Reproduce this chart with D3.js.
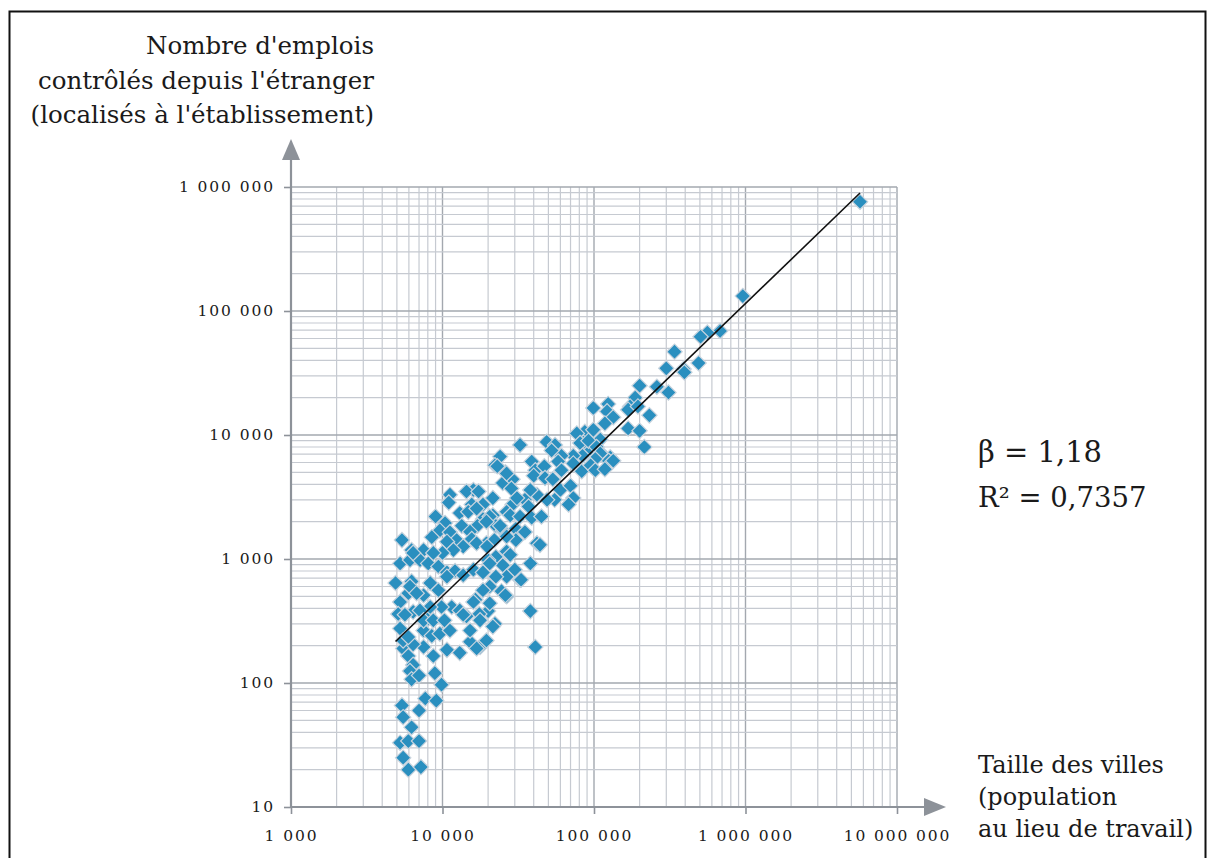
<!DOCTYPE html>
<html>
<head>
<meta charset="utf-8">
<script src="https://cdn.jsdelivr.net/npm/d3@7"></script>
<style>
    body { margin: 0; background: #fff; }
    text { font-family: "DejaVu Serif", "Liberation Serif", serif; fill: #1a1a1a; }
</style>
</head>
<body>
<svg width="1208" height="858"></svg>
<script>
/**
 * Villes : emplois contrôlés depuis l'étranger selon la taille de la ville (échelles log).
 */

// population au lieu de travail, emplois contrôlés depuis l'étranger
var cities = [
    [5700000, 760000], [960000, 132000], [680000, 69000], [560000, 67000], [505000, 62000],
    [340000, 47000], [490000, 38000], [390000, 34000], [395000, 32000], [300000, 34500],
    [200000, 25000], [260000, 24500], [310000, 22000], [187000, 20000], [173000, 17000],
    [168000, 16000], [195000, 17000], [232000, 14400], [99000, 16500], [124000, 17800],
    [122000, 15500], [134000, 13900], [118000, 12400], [168000, 11300], [200000, 10800],
    [215000, 8000], [87000, 10600], [99000, 11000], [110000, 9200], [113000, 7000],
    [128000, 6600], [92000, 7500], [85000, 8700],
    [77000, 10300], [48700, 8800], [55300, 8300], [32500, 8300], [81000, 8600],
    [92000, 9000], [104000, 8000], [110000, 7100], [125000, 6200], [102000, 6400],
    [84000, 6800], [73000, 6800], [61000, 6800], [52500, 7500], [24000, 6700],
    [22200, 5700], [26000, 5000], [38800, 6100], [41000, 5200], [47000, 5600],
    [58000, 6100], [61000, 5200], [73000, 5900], [83000, 5100], [95000, 5700],
    [102000, 5200], [134000, 6200], [118000, 5300], [25000, 4100], [29000, 4400],
    [28500, 3700], [40000, 4700], [47500, 4500], [53500, 4400], [60000, 3600],
    [70000, 3900], [73000, 3100], [68000, 2750], [55000, 3000], [49000, 3000],
    [42000, 3300], [38000, 3600], [35000, 3000], [37000, 2650], [29000, 2750],
    [31000, 3100], [21500, 3100], [16000, 3600], [18500, 2750], [21500, 2250],
    [18500, 2100], [17000, 1850], [26500, 2400], [28000, 2250], [32500, 2200],
    [38800, 2150], [45000, 2200], [22500, 1850], [25000, 1700], [30500, 1750],
    [35000, 1650], [42000, 1340], [44000, 1300], [30500, 1420], [26500, 1520],
    [19500, 1340], [22000, 1420], [26500, 1150], [28000, 1080], [22500, 1040],
    [20000, 980], [38000, 920], [25000, 890], [30000, 820], [26500, 720],
    [32500, 680], [22500, 720], [20500, 600], [24500, 550], [26500, 500],
    [16500, 470], [18500, 560], [20000, 380], [17500, 360], [38000, 380],
    [23000, 5600], [26500, 4900], [14400, 3500], [17300, 3500], [11200, 3300],
    [11000, 2850], [15600, 2750], [13000, 2350], [14800, 2400], [16800, 2550],
    [20500, 2200], [24000, 1850], [19500, 2000], [10400, 1950], [9600, 1700],
    [11200, 1640], [13400, 1850], [15200, 1660], [12400, 1420], [10700, 1380],
    [15600, 1450], [16800, 1340], [13700, 1260], [11800, 1180], [10000, 1120],
    [19700, 1260], [5400, 1420], [6250, 1180], [7500, 1180], [8700, 1120],
    [5250, 920], [6100, 980], [7100, 980], [8050, 920], [9400, 870],
    [10700, 780], [12100, 800], [13700, 740], [16000, 820], [18500, 780],
    [20500, 920], [9000, 2200], [8500, 1500],
    [4900, 640], [6250, 660], [5250, 450], [5100, 360], [5250, 275],
    [5950, 530], [6400, 375], [7500, 510], [8300, 640], [9400, 560],
    [10700, 720], [11500, 410], [9850, 410], [8050, 330], [7500, 265],
    [8500, 240], [9600, 250], [11200, 265], [10700, 185], [13000, 175],
    [15200, 215], [17700, 195], [19500, 220], [15200, 265], [14400, 345],
    [13000, 385], [16000, 450], [20500, 440], [22200, 300], [26000, 510],
    [33000, 680], [41000, 195], [5500, 190], [5950, 165], [6400, 140],
    [6100, 125], [6250, 107], [7000, 115], [8900, 120], [9850, 97],
    [7700, 75], [9100, 72], [5400, 66], [5500, 53], [7000, 60],
    [6250, 44], [5250, 33], [5950, 34], [7000, 34], [5500, 25],
    [5950, 20], [7200, 21],
    [6400, 1120], [6100, 600], [6750, 530], [8300, 410], [7100, 385],
    [5650, 355], [7500, 320], [8700, 320], [10300, 320], [13700, 355],
    [17700, 320], [21500, 285], [16800, 190], [8700, 165], [7500, 195],
    [6400, 205], [5500, 220], [5950, 235]
];

// droite d'ajustement log-log
var fitBeta = 1.18;
var fitIntercept = -2.02;
var fitRange = [4900, 5700000];

var xTickValues = [1e3, 1e4, 1e5, 1e6, 1e7];
var yTickValues = [10, 100, 1e3, 1e4, 1e5, 1e6];

var yTitle = ["Nombre d'emplois", "contrôlés depuis l'étranger", "(localisés à l'établissement)"];
var xTitle = ["Taille des villes", "(population", "au lieu de travail)"];
var statLines = ["β = 1,18", "R² = 0,7357"];

var AXIS_COLOR = "#8d9299";
var GRID_COLOR = "#c6cad1";
var MAJOR_COLOR = "#a3a8af";

var svg = d3.select("svg");

var x = d3.scaleLog().domain([1e3, 1e7]).range([291, 897]);
var y = d3.scaleLog().domain([10, 1e6]).range([807, 187]);

var fr = d3.formatLocale({ decimal: ",", thousands: "\u00a0", grouping: [3], currency: ["", ""] });
var fmt = fr.format(",d");

function isMajor(v) {
    var l = Math.log10(v);
    return Math.abs(l - Math.round(l)) < 1e-9;
}

// cadre
svg.append("rect")
    .attr("x", 9.5)
    .attr("y", 11.5)
    .attr("width", 1196)
    .attr("height", 900)
    .attr("fill", "none")
    .attr("stroke", "#111")
    .attr("stroke-width", 2);

// grille
var grid = svg.append("g");
grid.selectAll("line.v")
    .data(x.ticks())
    .enter().append("line")
    .attr("x1", function(d) { return x(d); })
    .attr("x2", function(d) { return x(d); })
    .attr("y1", y.range()[1])
    .attr("y2", y.range()[0])
    .attr("stroke", function(d) { return isMajor(d) ? MAJOR_COLOR : GRID_COLOR; })
    .attr("stroke-width", function(d) { return isMajor(d) ? 1.4 : 1.2; });
grid.selectAll("line.h")
    .data(y.ticks())
    .enter().append("line")
    .attr("y1", function(d) { return y(d); })
    .attr("y2", function(d) { return y(d); })
    .attr("x1", x.range()[0])
    .attr("x2", x.range()[1])
    .attr("stroke", function(d) { return isMajor(d) ? MAJOR_COLOR : GRID_COLOR; })
    .attr("stroke-width", function(d) { return isMajor(d) ? 1.4 : 1.2; });

// axes
var yAxis = svg.append("g")
    .attr("transform", "translate(" + x.range()[0] + ",0)")
    .call(d3.axisLeft(y).tickValues(yTickValues).tickFormat(fmt).tickSize(7).tickPadding(9));
var xAxis = svg.append("g")
    .attr("transform", "translate(0," + y.range()[0] + ")")
    .call(d3.axisBottom(x).tickValues(xTickValues).tickFormat(fmt).tickSize(7).tickPadding(16));

[yAxis, xAxis].forEach(function(a) {
    a.select(".domain").remove();
    a.selectAll(".tick line").attr("stroke", AXIS_COLOR).attr("stroke-width", 1.6);
    a.selectAll(".tick text")
        .style("font-family", "'DejaVu Serif', serif")
        .attr("font-size", 15.5)
        .attr("letter-spacing", 1.9)
        .attr("fill", "#1a1a1a");
});

svg.append("line")
    .attr("x1", x.range()[0]).attr("x2", x.range()[0])
    .attr("y1", y.range()[0] + 1).attr("y2", 156)
    .attr("stroke", AXIS_COLOR).attr("stroke-width", 2.2);
svg.append("line")
    .attr("x1", x.range()[0] - 1).attr("x2", 928)
    .attr("y1", y.range()[0]).attr("y2", y.range()[0])
    .attr("stroke", AXIS_COLOR).attr("stroke-width", 2.2);
svg.append("path")
    .attr("d", "M" + x.range()[0] + ",139L" + (x.range()[0] + 9) + ",160L" + (x.range()[0] - 9) + ",160Z")
    .attr("fill", AXIS_COLOR);
svg.append("path")
    .attr("d", "M946," + y.range()[0] + "L924," + (y.range()[0] - 9) + "L924," + (y.range()[0] + 9) + "Z")
    .attr("fill", AXIS_COLOR);

// points
var diamond = d3.symbol().type(d3.symbolSquare).size(118);
svg.append("g").selectAll("path")
    .data(cities)
    .enter().append("path")
    .attr("d", diamond)
    .attr("transform", function(d) { return "translate(" + x(d[0]) + "," + y(d[1]) + ") rotate(45)"; })
    .attr("fill", "#2a8fbf")
    .attr("stroke", "#c9d4de")
    .attr("stroke-width", 1.2);

// droite de régression
var fitLine = d3.line()
    .x(function(d) { return x(d); })
    .y(function(d) { return y(Math.pow(10, fitIntercept + fitBeta * Math.log10(d))); });
svg.append("path")
    .datum(fitRange)
    .attr("d", fitLine)
    .attr("fill", "none")
    .attr("stroke", "#111")
    .attr("stroke-width", 1.6);

// titres
svg.append("g").selectAll("text")
    .data(yTitle)
    .enter().append("text")
    .attr("x", 374)
    .attr("y", function(d, i) { return 54 + i * 34.5; })
    .attr("text-anchor", "end")
    .attr("font-size", 24.5)
    .text(function(d) { return d; });

svg.append("g").selectAll("text")
    .data(xTitle)
    .enter().append("text")
    .attr("x", 978)
    .attr("y", function(d, i) { return 773 + i * 32; })
    .attr("font-size", 24)
    .text(function(d) { return d; });

svg.append("g").selectAll("text")
    .data(statLines)
    .enter().append("text")
    .attr("x", 978)
    .attr("y", function(d, i) { return i === 0 ? 462 : 507; })
    .attr("font-size", function(d, i) { return i === 0 ? 29 : 27.5; })
    .text(function(d) { return d; });
</script>
</body>
</html>
